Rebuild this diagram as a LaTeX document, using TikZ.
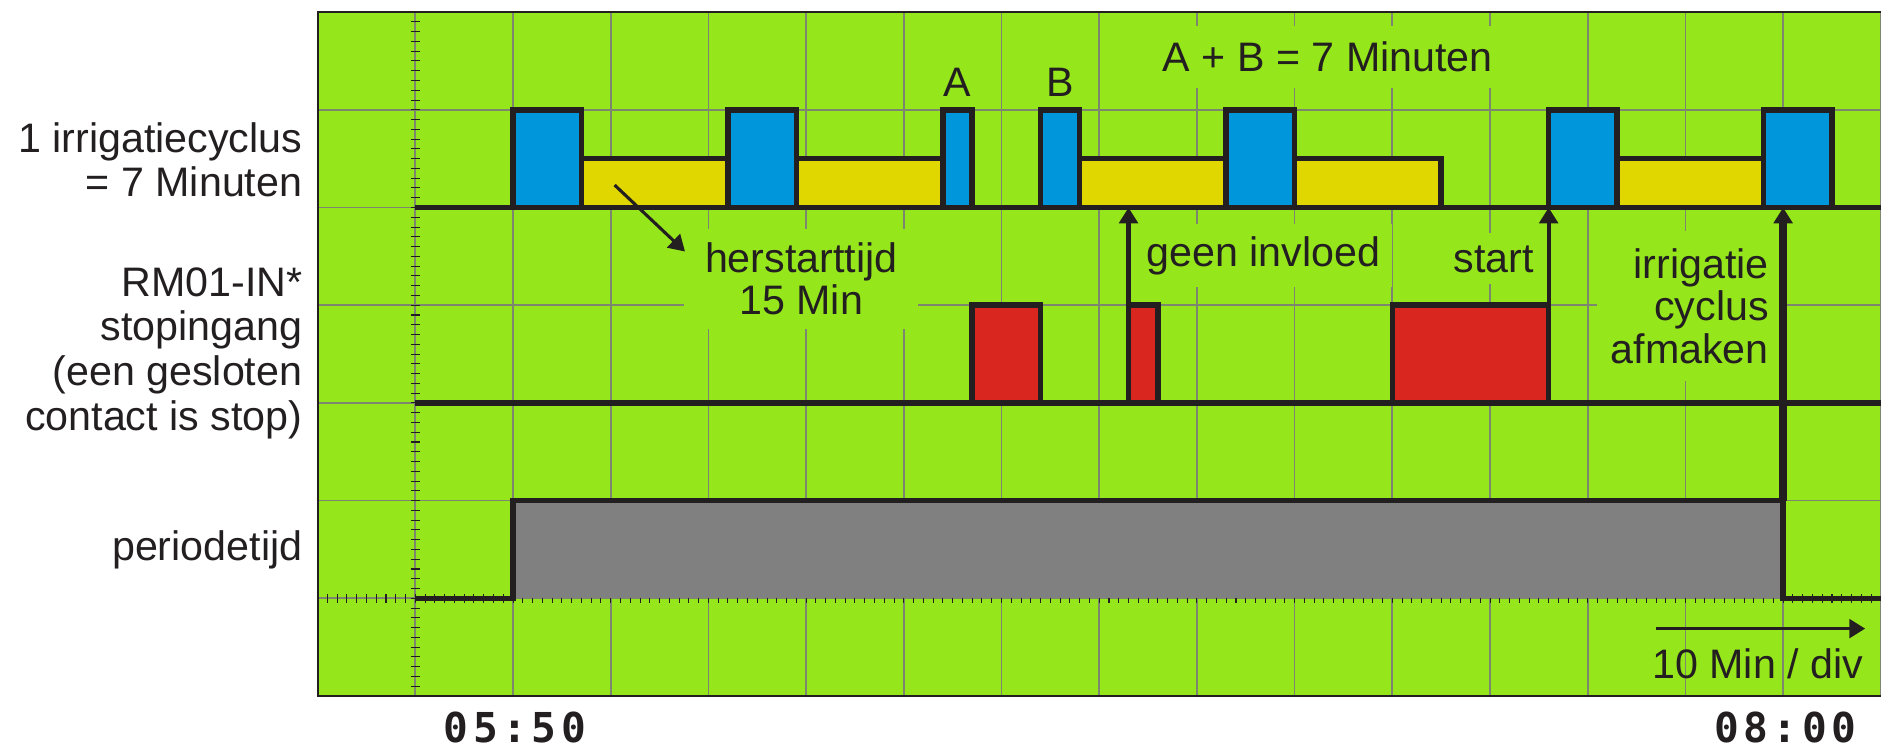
\documentclass[tikz,border=0pt]{standalone}
\usepackage{fontspec}
\setmainfont{Liberation Sans}
\newfontfamily\clockfont[LetterSpace=11]{DejaVu Sans Mono Bold}
\usepackage{tikz}
\usetikzlibrary{arrows.meta, positioning}
\definecolor{panelgreen}{RGB}{150,230,28}
\definecolor{pulseblue}{RGB}{0,150,220}
\definecolor{pauseyellow}{RGB}{224,214,0}
\definecolor{stopred}{RGB}{217,38,30}
\definecolor{periodgray}{RGB}{128,128,128}
\definecolor{inkblack}{RGB}{35,31,32}
\definecolor{gridgray}{RGB}{125,135,112}
\tikzset{
>={Triangle[length=4.6pt,width=5.4pt]}, % filled triangle heads on every pointer
every node/.style={font=\fontsize{12}{13}\selectfont, text=inkblack}, % Arial-like text everywhere
gridline/.style={draw=gridgray, line width=0.5pt}, % the scope raster
tickmark/.style={draw=inkblack, line width=0.3pt}, % small ticks on the two axes
sig/.style={draw=inkblack, line width=1.6pt}, % the thick signal traces
pointer/.style={->, draw=inkblack, fill=inkblack, line width=1.2pt}, % arrows that point at an event
sidetext/.style={anchor=east, align=right, inner sep=0pt}, % names of the three signals
boxtext/.style={fill=panelgreen, inner sep=3.5pt}, % texts that blank out the raster
tightlines/.style={font=\fontsize{12}{12.4}\selectfont}, % a bit closer lines inside the panel
clocktext/.style={font=\clockfont\fontsize{12}{14}\selectfont}, % times under the panel
}
\begin{document}
\begin{tikzpicture}
        \useasboundingbox (-5.251,-0.522) rectangle (14.002,7.124);

        \fill[panelgreen] (-2,0) rectangle (14,7);
        \draw[gridline] (-2,0) grid (14,7);
        \foreach \t in {1,...,69}
            \draw[tickmark] (-1.045,{\t/10}) -- (-0.955,{\t/10});
        \foreach \t in {-19,...,139}
            \draw[tickmark] ({\t/10},0.955) -- ({\t/10},1.045);
        \draw[inkblack, line width=0.6pt] (14,0) -- (-2,0) -- (-2,7) -- (14,7);

        \node[sidetext] (cyclus)  at (-2.15,5.49) {1 irrigatiecyclus\\= 7 Minuten};
        \node[sidetext] (stopin)  at (-2.15,3.51) {RM01-IN*\\stopingang\\(een gesloten\\contact is stop)};
        \node[sidetext] (periode) at (-2.15,1.50) {periodetijd};

        \node[boxtext, tightlines, align=center, inner xsep=6pt, inner ysep=4pt] (herstart) at (2.95,4.27) {herstarttijd\\15 Min};
        \node[boxtext, anchor=base] (geen)  at (7.68,4.40) {geen invloed};
        \node[boxtext, anchor=base] (start) at (10.04,4.34) {start};
        \node[boxtext, tightlines, anchor=east, align=right, inner xsep=4pt, inner ysep=5pt] (afmaken) at (13.0,3.99) {irrigatie\\cyclus\\afmaken};
        \node[boxtext, anchor=base, inner sep=4.5pt] (abeq) at (8.34,6.39) {A + B = 7 Minuten};
        \node[anchor=base] (labA) at (4.55,6.14) {A};
        \node[anchor=base] (labB) at (5.60,6.14) {B};

        \draw[sig] (-1,5) -- (14,5);
        \foreach \a/\b in {0/0.7, 2.2/2.9, 4.4/4.7, 5.4/5.8, 7.3/8.0, 10.6/11.3, 12.8/13.5}
            \draw[sig, fill=pulseblue] (\a,5) rectangle (\b,6);
        \foreach \a/\b in {0.7/2.2, 2.9/4.4, 5.8/7.3, 8.0/9.5, 11.3/12.8}
            \draw[sig, fill=pauseyellow] (\a,5) rectangle (\b,5.5);

        \draw[sig] (-1,3) -- (14,3);
        \foreach \a/\b in {4.7/5.4, 6.3/6.6, 9.0/10.6}
            \draw[sig, fill=stopred] (\a,3) rectangle (\b,4);

        \fill[periodgray] (0,1) rectangle (13,2);
        \draw[sig] (-1,1) -- (0,1) -- (0,2) -- (13,2) -- (13,1) -- (14,1);

        \coordinate (herstart-tail) at (1.04,5.23);
        \coordinate (herstart-tip)  at (1.76,4.55);
        \coordinate (geen-foot)     at (6.3,4);
        \coordinate (geen-tip)      at (6.3,5);
        \coordinate (start-foot)    at (10.6,4);
        \coordinate (start-tip)     at (10.6,5);
        \coordinate (afmaken-foot)  at (13,2);
        \coordinate (afmaken-tip)   at (13,5);
        \coordinate (schaal-tail)   at (11.70,0.69);
        \coordinate (schaal-tip)    at (13.84,0.69);

        \draw[pointer, line width=0.9pt] (herstart-tail) -- (herstart-tip);
        \draw[pointer] (geen-foot) -- (geen-tip);
        \draw[pointer] (start-foot) -- (start-tip);
        \draw[pointer, line width=2.2pt] (afmaken-foot) -- (afmaken-tip);
        \draw[pointer, line width=1pt] (schaal-tail) -- (schaal-tip);

        \node[anchor=base] (schaal) at (12.74,0.18) {10 Min / div};
        \node[clocktext] (t0550) at (0.02,-0.32) {05:50};
        \node[clocktext] (t0800) at (13.02,-0.32) {08:00};
\end{tikzpicture}
\end{document}
